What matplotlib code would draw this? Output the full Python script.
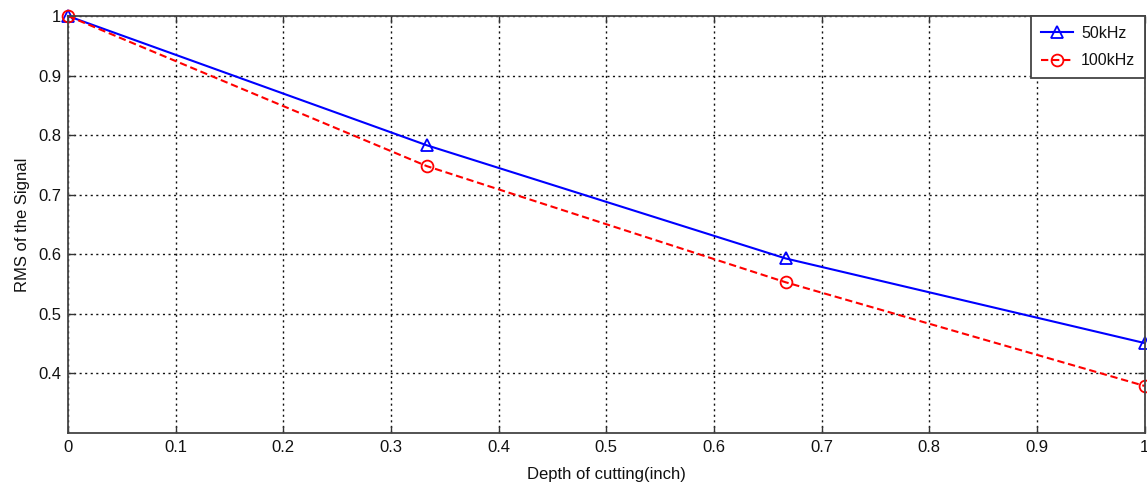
import matplotlib
matplotlib.use("Agg")
import matplotlib.pyplot as plt

plt.rcParams['font.family'] = ['Liberation Sans', 'DejaVu Sans']

depth = [0, 1/3, 2/3, 1]
rms_50k = [1.0, 0.783, 0.593, 0.451]
rms_100k = [1.0, 0.748, 0.553, 0.379]
x_ticks = [0, 0.1, 0.2, 0.3, 0.4, 0.5, 0.6, 0.7, 0.8, 0.9, 1]
y_ticks = [0.4, 0.5, 0.6, 0.7, 0.8, 0.9, 1]

fig = plt.figure(figsize=(11.47, 4.86), dpi=100)
ax = fig.add_axes([0.0593, 0.109, 0.9387, 0.858])

ax.plot(depth, rms_50k, color='#0000ff', lw=1.5, marker='^', ms=8,
        mfc='none', mew=1.3, label='50kHz', clip_on=False)
ax.plot(depth, rms_100k, color='#ff0000', lw=1.5, ls='--', dashes=(3.5, 1.8),
        marker='o', ms=8.5, mfc='none', mew=1.3, label='100kHz', clip_on=False)

ax.set_xlim(0, 1)
ax.set_ylim(0.3, 1)
ax.set_xticks(x_ticks)
ax.set_xticklabels(['0', '0.1', '0.2', '0.3', '0.4', '0.5', '0.6', '0.7', '0.8', '0.9', '1'])
ax.set_yticks(y_ticks)
ax.set_yticklabels(['0.4', '0.5', '0.6', '0.7', '0.8', '0.9', '1'])
ax.tick_params(direction='in', length=5, width=1, top=True, right=True,
               labelsize=12, colors='#333333', labelcolor='#111111', pad=5)
ax.grid(True, color='#111111', ls=(0, (1.5, 2.5)), lw=1.0)
for s in ax.spines.values():
    s.set_color('#444444')
    s.set_linewidth(1.3)

ax.set_xlabel('Depth of cutting(inch)', fontsize=12, labelpad=9, color='#111111')
ax.set_ylabel('RMS of the Signal', fontsize=12, labelpad=6, color='#111111')

leg = ax.legend(loc='upper right', fontsize=11.5, fancybox=False, framealpha=1,
                edgecolor='#444444', borderaxespad=0, handlelength=2.0,
                handletextpad=0.5, borderpad=0.6, labelspacing=0.8)
leg.get_frame().set_linewidth(1.3)
for t in leg.get_texts():
    t.set_color('#111111')

fig.savefig('out.png', dpi=100)
